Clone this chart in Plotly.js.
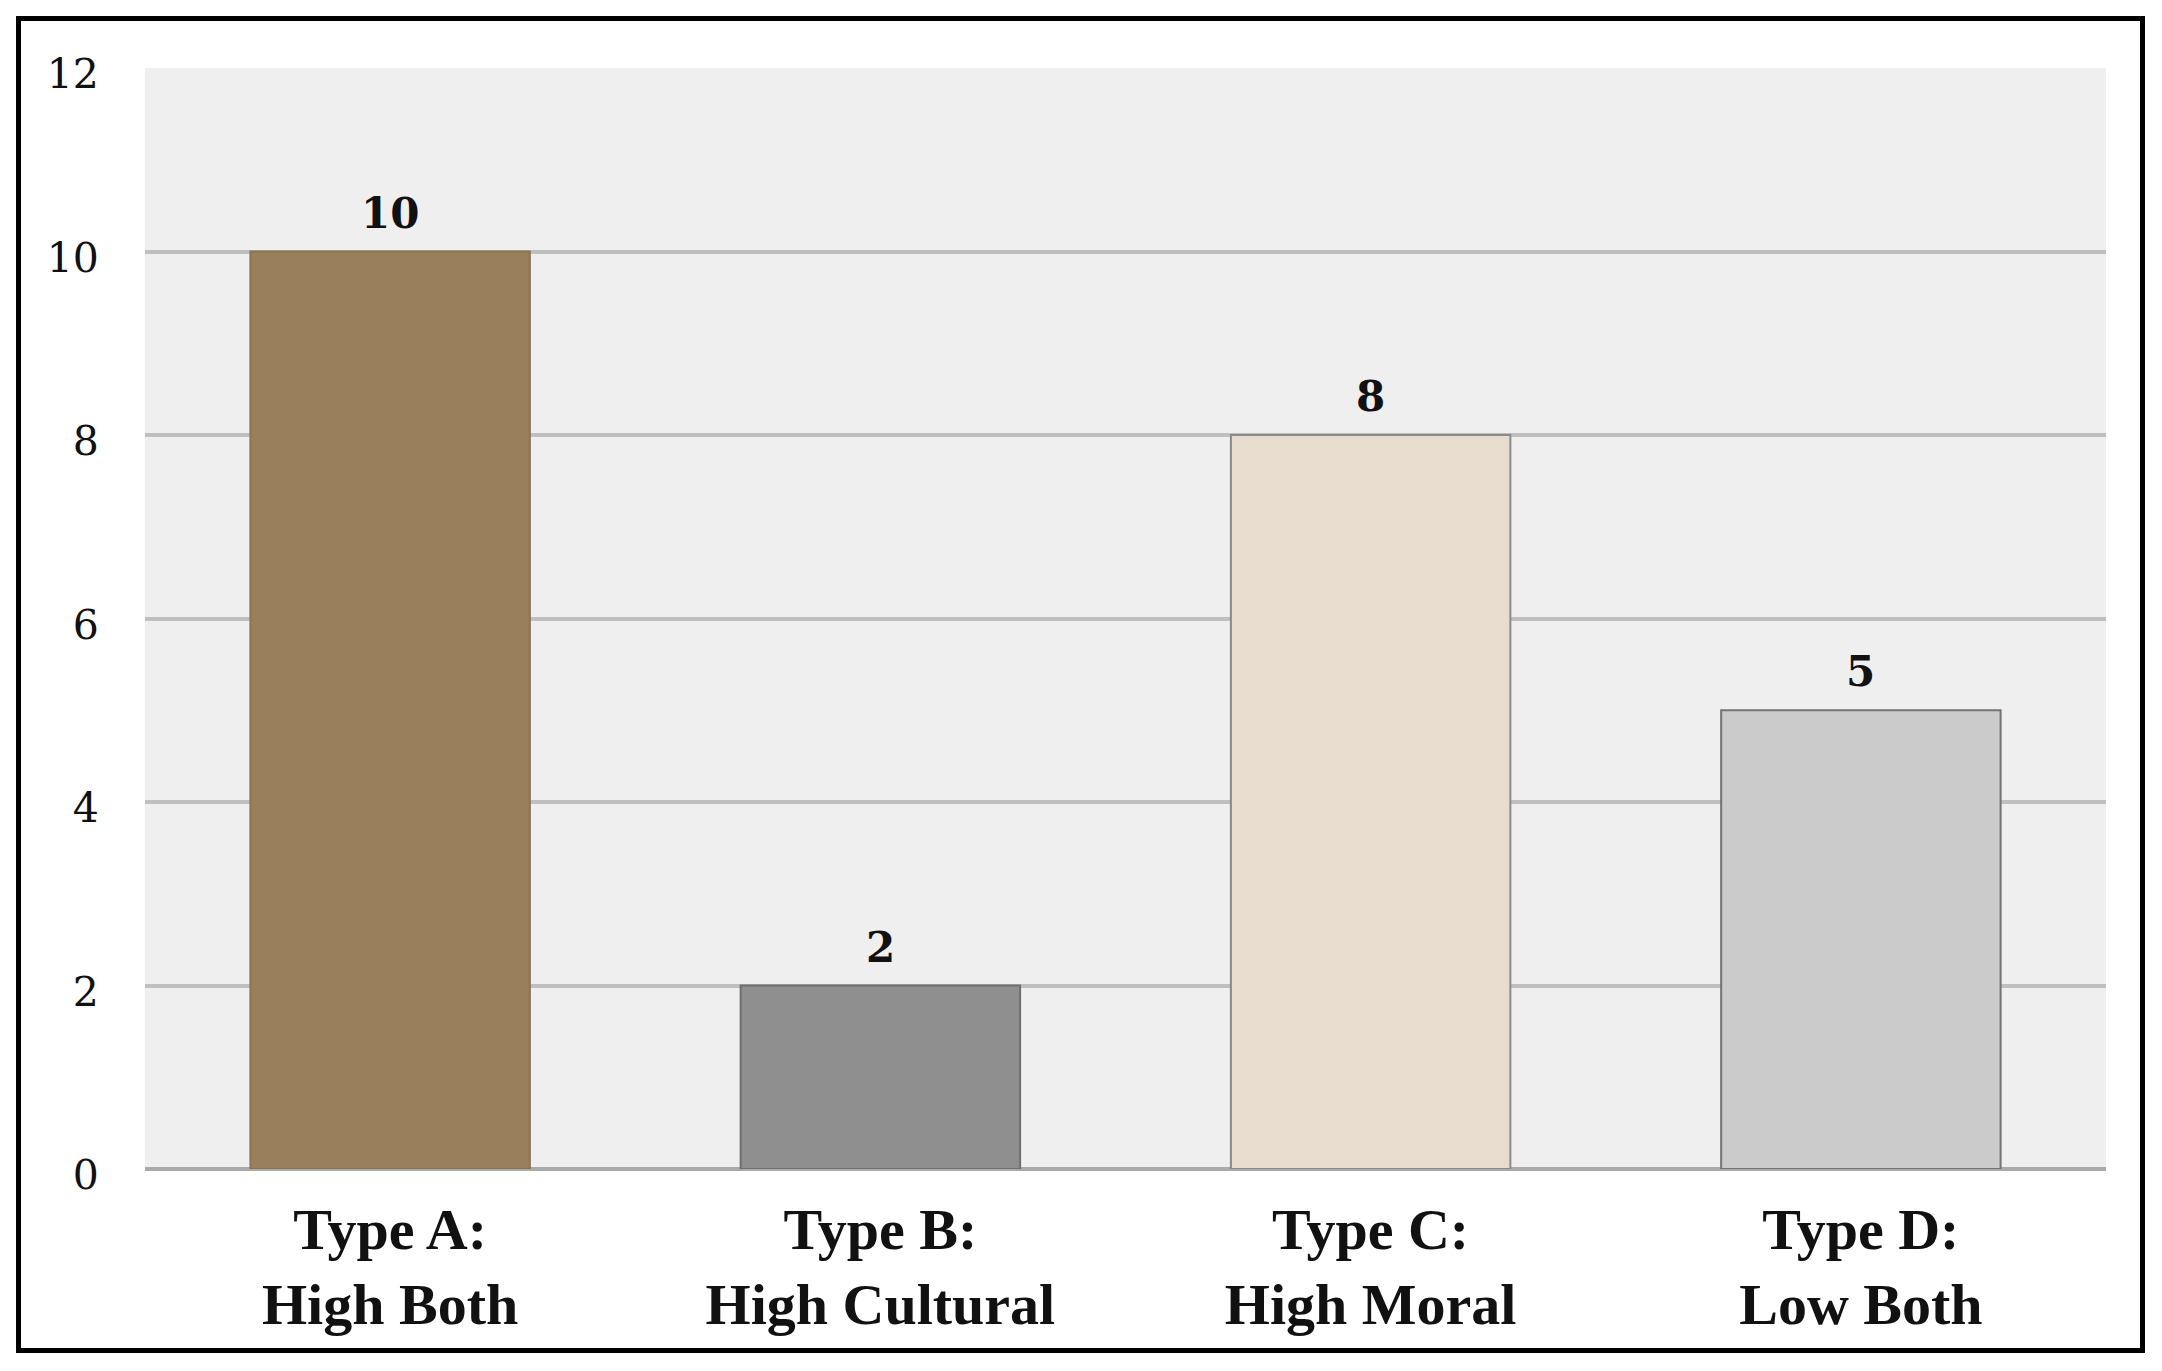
<!DOCTYPE html>
<html>
<head>
<meta charset="utf-8">
<script src="https://cdn.plot.ly/plotly-3.0.1.min.js"></script>
<style>
  html, body { margin: 0; padding: 0; background: #ffffff; }
  #wrap { position: relative; width: 2162px; height: 1371px; }
  #chart { position: absolute; left: 0; top: 0; width: 2162px; height: 1371px; }
  #frame { position: absolute; left: 16px; top: 16px; width: 2119px; height: 1327px;
           border: 5px solid #000; pointer-events: none; }
</style>
</head>
<body>
<div id="wrap">
  <div id="chart"></div>
  <div id="frame"></div>
</div>
<script>
// ---- data ----
const categories = ["Type A", "Type B", "Type C", "Type D"];
const categoryLabels = ["Type A:<br>High Both", "Type B:<br>High Cultural", "Type C:<br>High Moral", "Type D:<br>Low Both"];
const counts = [10, 2, 8, 5];
const barColors = ["#9a7f5c", "#8f8f8f", "#e8dcce", "#cbcbcb"];
const barLines = ["#8c7352", "#6f6f6f", "#8a8a8a", "#747474"];
const yTicks = [0, 2, 4, 6, 8, 10, 12];

const trace = {
  type: "bar",
  x: categories,
  y: counts,
  marker: { color: barColors, line: { color: barLines, width: 2 } },
  hoverinfo: "skip"
};

const annotations = categories.map((c, i) => ({
  x: c, y: counts[i], xref: "x", yref: "y",
  text: String(counts[i]),
  showarrow: false,
  yanchor: "bottom",
  yshift: 12,
  font: { family: "DejaVu Serif", size: 42, color: "#111", weight: "bold" }
}));

const layout = {
  width: 2162, height: 1371,
  margin: { l: 145, r: 56, t: 68, b: 202 },
  paper_bgcolor: "#ffffff",
  plot_bgcolor: "#efefef",
  bargap: 0.43,
  showlegend: false,
  xaxis: {
    tickvals: categories,
    ticktext: categoryLabels,
    tickfont: { family: "Liberation Serif", size: 58, color: "#111", weight: "bold" },
    showgrid: false,
    zeroline: false,
    showline: false,
    ticks: "outside", ticklen: 9, tickcolor: "rgba(0,0,0,0)"
  },
  yaxis: {
    range: [0, 12],
    tickvals: yTicks,
    ticktext: yTicks.map(String),
    tickfont: { family: "DejaVu Serif", size: 41, color: "#111" },
    showgrid: true, gridcolor: "#bfbfbf", gridwidth: 4,
    zeroline: true, zerolinecolor: "#aaaaaa", zerolinewidth: 4,
    showline: false,
    ticklabelshift: 6,
    ticks: "outside", ticklen: 37, tickcolor: "rgba(0,0,0,0)"
  },
  annotations: annotations
};

Plotly.newPlot("chart", [trace], layout, { displayModeBar: false, staticPlot: true });
</script>
</body>
</html>
